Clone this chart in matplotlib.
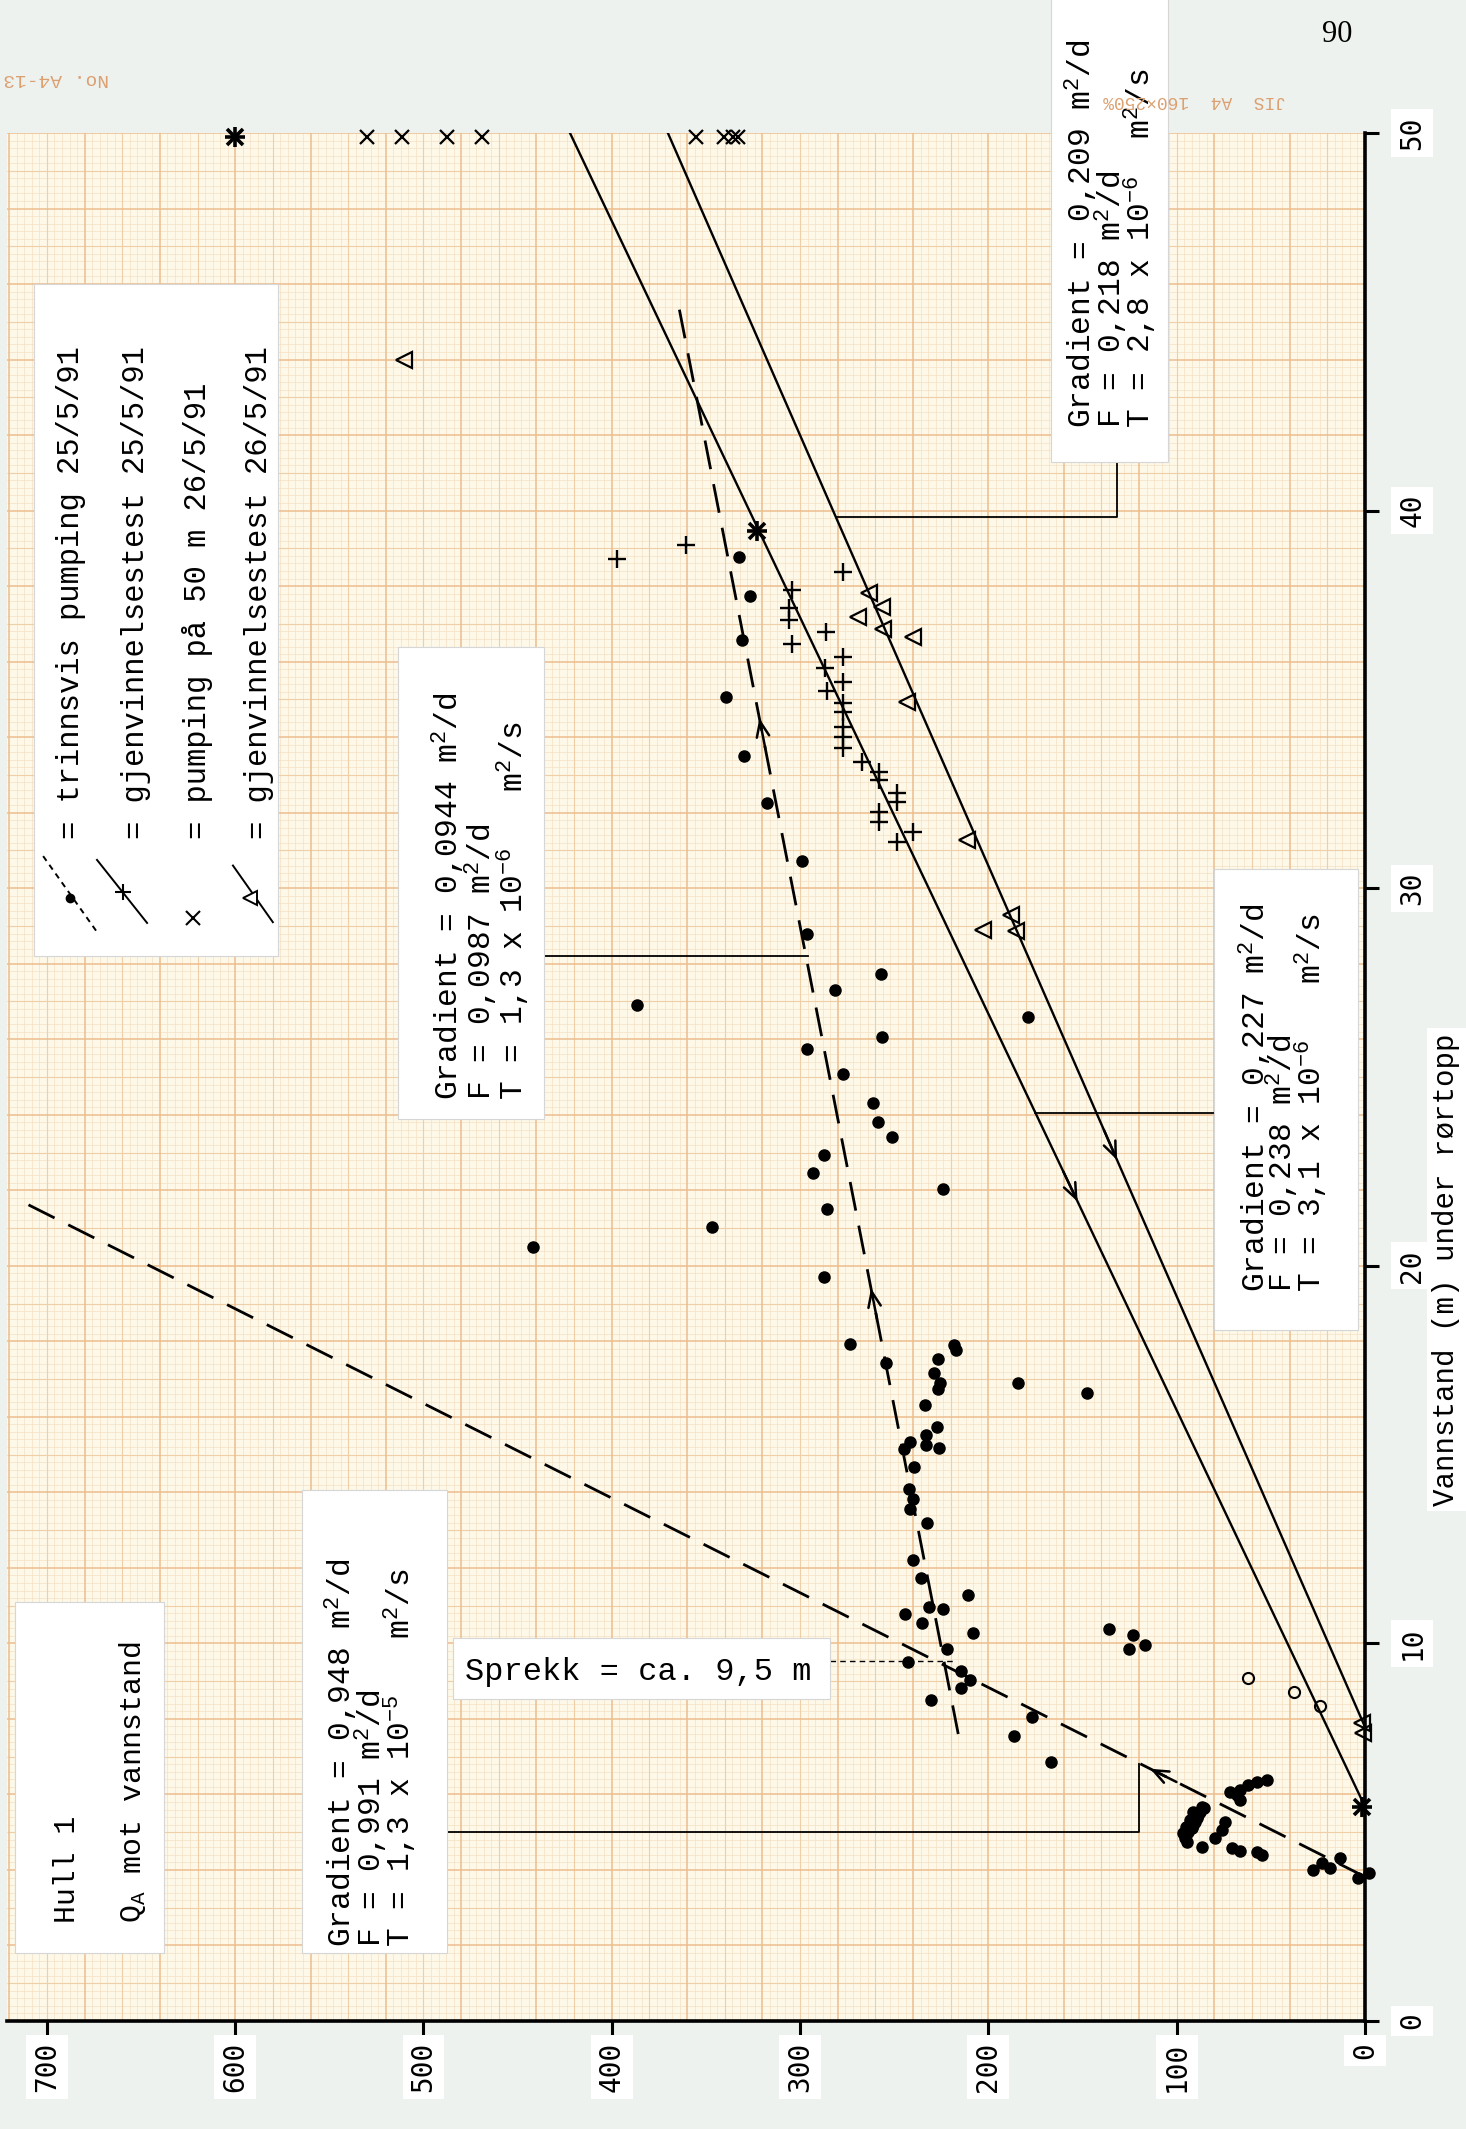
import numpy as np
import matplotlib
matplotlib.use("Agg")
import matplotlib.pyplot as plt
from matplotlib.patches import Rectangle

plt.rcParams['font.family'] = ['Liberation Mono', 'DejaVu Sans Mono']
plt.rcParams['mathtext.fontset'] = 'custom'
plt.rcParams['mathtext.rm'] = 'Liberation Mono'
plt.rcParams['mathtext.it'] = 'Liberation Mono'
plt.rcParams['mathtext.bf'] = 'Liberation Mono:bold'

# (Q_A, vannstand m)
pump = np.array([
    (332.3, 38.76), (326.6, 37.74), (331.0, 36.57), (339.4, 35.07), (329.6, 33.5), (317.7, 32.26),
    (298.8, 30.73), (296.5, 28.8), (257.0, 27.72), (281.5, 27.3), (386.8, 26.9), (178.8, 26.6),
    (296.5, 25.73), (256.6, 26.05), (277.2, 25.08), (261.4, 24.32), (258.7, 23.82), (251.4, 23.42),
    (287.3, 22.93), (292.9, 22.45), (224.3, 22.03), (285.6, 21.5), (287.3, 19.7), (273.4, 17.93),
    (254.5, 17.43), (218.0, 17.9), (217.0, 17.78), (226.8, 17.52), (228.9, 17.15), (225.8, 16.89),
    (226.8, 16.73), (184.4, 16.9), (147.4, 16.64), (233.5, 16.31), (227.2, 15.74), (241.5, 15.34),
    (244.7, 15.14), (233.1, 15.52), (233.1, 15.25), (226.4, 15.17), (239.4, 14.66),
    (346.6, 21.04), (442.0, 20.49),
    (242.0, 14.08), (240.2, 13.82), (241.6, 13.55), (232.4, 13.2), (240.2, 12.21), (236.0, 11.72),
    (210.7, 11.28), (244.3, 10.78), (231.4, 10.96), (224.0, 10.9), (235.4, 10.53), (208.3, 10.28),
    (222.1, 9.84), (242.5, 9.52), (214.7, 9.28), (209.8, 9.03), (214.7, 8.81), (230.6, 8.5),
    (177.0, 8.04), (186.4, 7.55), (166.9, 6.87), (135.8, 10.37), (123.4, 10.22), (116.8, 9.96),
    (125.2, 9.84),
    (71.7, 6.07), (66.4, 6.12), (62.0, 6.25), (57.5, 6.34), (52.2, 6.38), (68.1, 5.99), (66.4, 5.85),
    (86.7, 5.68), (87.6, 5.54), (88.5, 5.46), (89.4, 5.37), (90.3, 5.28), (91.2, 5.19), (92.0, 5.1),
    (93.8, 5.01), (95.1, 4.93), (95.6, 4.84), (94.4, 4.75), (86.7, 4.62), (91.2, 5.54), (92.9, 5.32),
    (95.1, 5.15), (85.5, 5.63), (96.5, 4.97),
    (74.3, 5.28), (76.1, 5.06), (79.7, 4.84), (70.8, 4.57), (66.4, 4.51), (57.5, 4.48), (54.9, 4.40),
    (27.4, 4.0), (23.0, 4.18), (18.6, 4.04), (13.3, 4.31), (3.6, 3.78), (-2.0, 3.91),
])
rec1 = np.array([
    (397.1, 38.71), (360.6, 39.1), (277.0, 38.38), (304.5, 37.9), (305.7, 37.41), (305.7, 37.1),
    (304.2, 36.46), (286.2, 36.78), (277.0, 36.11), (286.8, 35.82), (277.0, 35.47), (285.9, 35.23),
    (277.0, 34.91), (277.0, 34.67), (277.0, 34.28), (277.0, 34.01), (277.0, 33.71), (267.3, 33.35),
    (257.9, 33.09), (257.9, 32.86), (248.7, 32.51), (248.7, 32.29), (257.9, 32.03), (257.9, 31.76),
    (240.2, 31.5), (248.4, 31.23),
])
rec2 = np.array([
    (510.5, 44.0), (263.3, 37.83), (256.7, 37.46), (269.1, 37.17), (255.8, 36.86), (240.2, 36.64),
    (243.1, 34.94), (211.2, 31.28), (188.2, 29.29), (203.0, 28.89), (185.3, 28.87), (1.8, 7.88),
    (0.9, 7.62),
])
pump50 = np.array([
    (600, 49.9), (530.2, 49.9), (511.6, 49.9), (487.4, 49.9), (468.7, 49.9), (355.1, 49.9),
    (340.2, 49.9), (335.4, 49.9), (332.8, 49.9),
])
rings = np.array([(62.0, 9.08), (37.7, 8.72), (23.9, 8.34)])
stars = np.array([(1.8, 5.68), (322.7, 39.47), (600, 49.9)])

# fitted lines (Q, vannstand)
steep_q, steep_d = [0, 712], [3.82, 21.67]
flat_q, flat_d = [216, 364.4], [7.6, 45.4]
line_a_q, line_a_d = [0, 422.2], [5.68, 50]
line_b_q, line_b_d = [0, 370.2], [7.79, 50]

q_ticks = [0, 100, 200, 300, 400, 500, 600, 700]
d_ticks = [0, 10, 20, 30, 40, 50]

fig = plt.figure(figsize=(14.66, 21.29), dpi=100)
fig.patch.set_facecolor('#eef2ef')
ax = fig.add_axes([0.00477, 0.05073, 0.9263, 0.8868])
ax.set_xlim(721.2, 0)
ax.set_ylim(0, 50)
ax.set_facecolor('#fdf8e8')

# graph paper, 1 mm = 4 units / 0.2 m
qi = np.arange(0, 181)
di = np.arange(0, 251)
for sel, col, w in [(lambda i: i % 5 != 0, '#f4e0c4', 0.5),
                    (lambda i: (i % 5 == 0) & (i % 10 != 0), '#efcfa8', 0.8),
                    (lambda i: i % 10 == 0, '#ebbd8e', 1.1)]:
    ax.vlines(qi[sel(qi)] * 4, 0, 50, colors=col, lw=w, zorder=0.5)
    ax.hlines(di[sel(di)] * 0.2, 0, 721.2, colors=col, lw=w, zorder=0.5)

# lines
dash = (0, (10.5, 5.5))
ax.plot(steep_q, steep_d, color='k', lw=2, linestyle=dash, zorder=3, clip_on=False)
ax.plot(flat_q, flat_d, color='k', lw=2, linestyle=dash, zorder=3)
ax.plot(line_a_q, line_a_d, color='k', lw=1.7, zorder=3)
ax.plot(line_b_q, line_b_d, color='k', lw=1.7, zorder=3)


def chevron(lq, ld, d_tail, d_tip):
    q0 = np.interp(d_tail, ld, lq)
    q1 = np.interp(d_tip, ld, lq)
    ax.annotate('', xy=(q1, d_tip), xytext=(q0, d_tail),
                arrowprops=dict(arrowstyle='->,head_length=1.1,head_width=0.45',
                                color='k', lw=1.8, shrinkA=0, shrinkB=0), zorder=4)


chevron(line_a_q, line_a_d, 22.5, 21.7)
chevron(line_b_q, line_b_d, 23.6, 22.8)
chevron(flat_q, flat_d, 33.7, 34.5)
chevron(flat_q, flat_d, 18.6, 19.4)
chevron(steep_q, steep_d, 6.33, 6.68)

# markers
ax.plot(pump[:, 0], pump[:, 1], 'o', color='k', ms=8, zorder=4, clip_on=False)
ax.plot(rec1[:, 0], rec1[:, 1], '+', color='k', ms=13, mew=1.7, zorder=4)
ax.plot(rec2[:, 0], rec2[:, 1], '<', mfc='none', mec='k', ms=11, mew=1.6, zorder=4, clip_on=False)
ax.plot(pump50[:, 0], pump50[:, 1], 'x', color='k', ms=10, mew=1.6, zorder=4, clip_on=False)
ax.plot(rings[:, 0], rings[:, 1], 'o', mfc='none', mec='k', ms=8, mew=1.5, zorder=4)
ax.plot(stars[:, 0], stars[:, 1], '+', color='k', ms=14, mew=2.6, zorder=4, clip_on=False)
ax.plot(stars[:, 0], stars[:, 1], 'x', color='k', ms=11, mew=2.6, zorder=4, clip_on=False)

# connectors from notes to lines
thin = dict(color='k', lw=1.3, zorder=2.5, clip_on=False)
ax.plot([281.0, 131.7, 131.7], [39.84, 39.84, 41.3], **thin)
ax.plot([436.2, 295.6], [28.2, 28.2], **thin)
ax.plot([175.2, 80.0], [24.05, 24.05], **thin)
ax.plot([487.3, 119.9, 119.9], [5.0, 5.0, 6.8], **thin)
ax.plot([284.1, 218.5], [9.53, 9.53], color='k', lw=1.0, linestyle=(0, (4, 3)), zorder=2.5)


def paper(q_left, q_right, d_low, d_high):
    ax.add_patch(Rectangle((q_right, d_low), q_left - q_right, d_high - d_low,
                           facecolor='white', edgecolor='#d6d6d6', lw=0.8,
                           zorder=5, clip_on=False))


def note(lines, qs, d0, size=22.5):
    for s, q in zip(lines, qs):
        ax.text(q, d0, s, rotation=90, rotation_mode='anchor', ha='left',
                va='center_baseline', fontsize=size, zorder=6, clip_on=False)


# legend sheet
paper(706.8, 577.3, 28.2, 46.0)
note(["= trinnsvis pumping 25/5/91", "= gjenvinnelsestest 25/5/91",
      "= pumping på 50 m 26/5/91", "= gjenvinnelsestest 26/5/91"],
     [689.3, 654.7, 621.8, 589.4], 31.3, size=22)
ax.plot([702, 673.4], [30.85, 28.84], color='k', lw=1.4, linestyle=(0, (3, 2.5)), zorder=6)
ax.plot([688], [29.75], 'o', color='k', ms=6, zorder=6)
ax.plot([673.4, 646.8], [30.75, 29.08], color='k', lw=1.4, zorder=6)
ax.plot([659.6], [29.9], '+', color='k', ms=11, mew=1.5, zorder=6)
ax.plot([622.3], [29.2], 'x', color='k', ms=10, mew=1.5, zorder=6)
ax.plot([601.2, 580.0], [30.6, 29.1], color='k', lw=1.4, zorder=6)
ax.plot([592.0], [29.75], '<', mfc='white', mec='k', ms=10, mew=1.4, zorder=6)

paper(166.9, 104.5, 41.3, 53.6)
note(["Gradient = 0,209 m$^2$/d", "F = 0,218 m$^2$/d", "T = 2,8 x 10$^{-6}$  m$^2$/s"],
     [152.7, 136.8, 121.7], 42.2)

paper(513.5, 436.2, 23.9, 36.4)
note(["Gradient = 0,0944 m$^2$/d", "F = 0,0987 m$^2$/d", "T = 1,3 x 10$^{-6}$   m$^2$/s"],
     [489.0, 471.3, 454.5], 24.4)

paper(80.0, 3.6, 18.3, 30.5)
note(["Gradient = 0,227 m$^2$/d", "F = 0,238 m$^2$/d", "T = 3,1 x 10$^{-6}$   m$^2$/s"],
     [60.6, 45.8, 30.4], 19.3)

paper(564.4, 487.3, 1.8, 14.05)
note(["Gradient = 0,948 m$^2$/d", "F = 0,991 m$^2$/d", "T = 1,3 x 10$^{-5}$   m$^2$/s"],
     [545.7, 529.8, 514.7], 1.97)

paper(717.0, 637.6, 1.8, 11.1)
note(["Hull 1", "Q$_A$ mot vannstand"], [690.9, 656.4], 2.6, size=21.5)

paper(484.4, 284.1, 8.52, 10.14)
ax.text(478, 9.25, "Sprekk = ca. 9,5 m", ha='left', va='center', fontsize=23, zorder=6)

# axes
for s in ['left', 'top']:
    ax.spines[s].set_visible(False)
for s in ['right', 'bottom']:
    ax.spines[s].set_linewidth(2.6)
    ax.spines[s].set_zorder(7)
ax.yaxis.tick_right()
ax.set_xticks(q_ticks)
ax.set_yticks(d_ticks)
ax.tick_params(axis='x', direction='out', length=10, width=2.2, pad=5, labelsize=20,
               labelrotation=90)
ax.tick_params(axis='y', direction='out', length=10, width=2.2, pad=14, labelsize=20,
               labelrotation=90)
for lab in ax.get_xticklabels() + ax.get_yticklabels():
    lab.set_fontfamily('DejaVu Sans Mono')
    lab.set_bbox(dict(facecolor='white', edgecolor='none', pad=5))
for lab in ax.get_yticklabels():
    lab.set_va('center')

ax.text(-43.3, 19.9, "Vannstand (m) under rørtopp", rotation=90, ha='center', va='center',
        fontsize=21, clip_on=False, zorder=6,
        bbox=dict(facecolor='white', edgecolor='none', pad=4))

fig.text(1337 / 1466, 1 - 34 / 2129, "90", fontsize=22, family='Liberation Serif',
         ha='center', va='center')
fig.text(56 / 1466, 1 - 79 / 2129, "No. A4-13", fontsize=14, rotation=180, color='#dca070',
         ha='center', va='center')
fig.text(1195 / 1466, 1 - 100 / 2129, "JIS  A4  160×250%", fontsize=13, rotation=180,
         color='#dca070', ha='center', va='center')

fig.savefig("out.png", dpi=100, facecolor=fig.get_facecolor())
